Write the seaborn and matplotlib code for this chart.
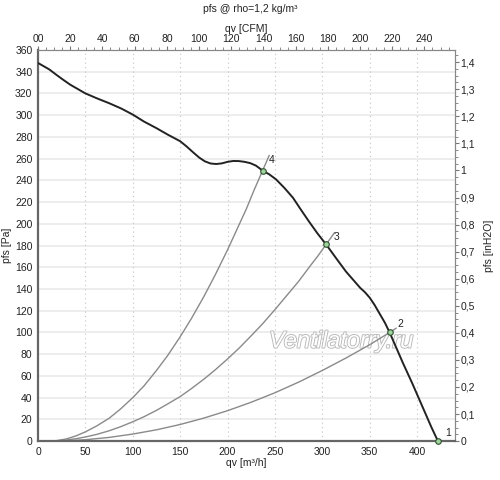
import numpy as np
import pandas as pd
import seaborn as sns
import matplotlib
matplotlib.use("Agg")
import matplotlib.pyplot as plt
import matplotlib.patheffects as pe
from matplotlib.ticker import MultipleLocator, FixedLocator

# fan curve (qv m3/h, pfs Pa)
fan_q = [0, 6, 12, 18, 25, 34, 42, 50, 62, 75, 88, 100, 112, 125, 137, 150, 157, 164,
         170, 176, 182, 188, 194, 200, 206, 212, 218, 224, 230, 237, 244, 251, 260, 269,
         277, 286, 295, 304, 314, 325, 333, 340, 345, 350, 355, 360, 366, 371, 378, 385,
         395, 405, 415, 422]
fan_p = [348, 345, 342, 338, 333.5, 328, 324, 320, 315.5, 311, 306, 300.5, 294, 288, 282,
         276, 271, 265.5, 261, 257.5, 255.5, 255, 255.6, 257, 257.8, 257.7, 257, 255.8,
         253.5, 249, 245.5, 241, 233, 224, 213.5, 202, 191, 181, 169, 156, 148, 141, 137,
         132, 125.5, 118, 109, 100, 86, 72, 53, 33, 13, 0]

# system curves
sys4_q = [10, 20, 30, 40, 50, 62, 75, 87, 100, 112, 125, 137, 150, 162, 175, 187, 200,
          210, 220, 228, 237, 244]
sys4_p = [0, 0.5, 2, 4.8, 8.5, 14, 21, 29.5, 40, 51, 65, 79, 96, 113, 133, 153, 176,
          195, 214, 231, 249, 263]
sys3_q = [10, 20, 30, 40, 50, 62, 75, 87, 100, 112, 125, 137, 150, 162, 175, 187, 200,
          212, 225, 237, 250, 262, 275, 287, 295, 304, 313]
sys3_p = [0, 0.3, 1, 2.2, 3.8, 6.2, 9.5, 13.2, 17.8, 22.5, 28.3, 34.3, 41, 48.4, 57,
          65.6, 75.6, 85.4, 97, 108, 121, 133.5, 147, 161, 170, 181, 192]
sys2_q = [10, 30, 50, 75, 100, 125, 150, 175, 200, 225, 250, 275, 300, 325, 350, 371, 378]
sys2_p = [0, 0.4, 1.3, 3.4, 6.5, 10.4, 15.3, 21.2, 28, 35.8, 44.5, 54.3, 65, 76.5, 88.7,
          100, 104]

# operating points
op_names = ["1", "2", "3", "4"]
op_q = [422, 371, 304, 237]
op_p = [0, 100, 181, 249]
op_label_q = [433, 382, 315, 247]
op_label_p = [7.5, 108, 188, 259]

cfm_ticks = list(range(0, 241, 20))
cfm_labels = ["00"] + [str(t) for t in cfm_ticks[1:]]
inh2o_ticks = [round(0.1 * i, 1) for i in range(15)]
inh2o_labels = ["0"] + [("%g" % t).replace(".", ",") for t in inh2o_ticks[1:]]

sns.set_style("white")
plt.rcParams["font.family"] = ["Liberation Sans", "DejaVu Sans"]

fig = plt.figure(figsize=(5, 4.8), dpi=100)
ax = fig.add_axes([0.076, 0.081, 0.834, 0.815])

# grid
for y in range(20, 360, 20):
    ax.axhline(y, color="#e8e8e8", lw=1.1, zorder=0)
for x in range(50, 450, 50):
    ax.axvline(x, color="#c4c4c4", lw=0.8, ls=(0, (1, 3)), zorder=0)

for q, p in [(sys4_q, sys4_p), (sys3_q, sys3_p), (sys2_q, sys2_p)]:
    sns.lineplot(x=q, y=p, ax=ax, color="#8a8a8a", lw=1.0, sort=False, zorder=2)

sns.lineplot(x=fan_q, y=fan_p, ax=ax, color="#222222", lw=1.4, sort=False, zorder=3)

pts = pd.DataFrame({"q": op_q, "p": op_p})
sns.scatterplot(data=pts, x="q", y="p", ax=ax, s=16, color="#9fd49f",
                edgecolor="#2e4e2e", linewidth=0.8, zorder=4, clip_on=False)
for name, lq, lp in zip(op_names, op_label_q, op_label_p):
    ax.text(lq, lp, name, fontsize=7.5, color="#222222", ha="center", va="center")

ax.text(320, 92, "Ventilatorry.ru", fontsize=17, style="italic",
        color="white", ha="center", va="center", zorder=1,
        path_effects=[pe.withStroke(linewidth=1.3, foreground="#b8b8b8")])

ax.set_xlim(0, 440)
ax.set_ylim(0, 360)
ax.xaxis.set_major_locator(MultipleLocator(50))
ax.xaxis.set_minor_locator(MultipleLocator(10))
ax.yaxis.set_major_locator(MultipleLocator(20))
ax.yaxis.set_minor_locator(MultipleLocator(5))
ax.tick_params(which="both", direction="out", colors="#777777", labelcolor="#222222",
               labelsize=7.5, pad=1)
ax.tick_params(which="major", length=3, width=0.8)
ax.tick_params(which="minor", length=2, width=0.6)
ax.set_xlabel("qv [m³/h]", fontsize=7.5, labelpad=1, color="#222222")
ax.set_ylabel("pfs [Pa]", fontsize=7.5, labelpad=2, color="#222222")

for side in ["left", "bottom"]:
    ax.spines[side].set_color("#666666")
    ax.spines[side].set_linewidth(1.6)
for side in ["top", "right"]:
    ax.spines[side].set_color("#888888")
    ax.spines[side].set_linewidth(0.8)

secx = ax.secondary_xaxis("top", functions=(lambda q: q / 1.699, lambda c: c * 1.699))
secx.xaxis.set_major_locator(FixedLocator(cfm_ticks))
secx.set_xticklabels(cfm_labels)
secx.xaxis.set_minor_locator(MultipleLocator(5))
secx.tick_params(which="both", direction="out", colors="#777777", labelcolor="#222222",
                 labelsize=7.5, pad=1)
secx.tick_params(which="major", length=3)
secx.tick_params(which="minor", length=2)
secx.set_xlabel("qv [CFM]", fontsize=7.5, labelpad=2, color="#222222")
secx.spines["top"].set_color("#888888")

secy = ax.secondary_yaxis("right", functions=(lambda p: p / 249.09, lambda h: h * 249.09))
secy.yaxis.set_major_locator(FixedLocator(inh2o_ticks))
secy.set_yticklabels(inh2o_labels)
secy.yaxis.set_minor_locator(MultipleLocator(0.025))
secy.tick_params(which="both", direction="out", colors="#777777", labelcolor="#222222",
                 labelsize=7.5, pad=1)
secy.tick_params(which="major", length=3)
secy.tick_params(which="minor", length=2)
secy.set_ylabel("pfs [inH2O]", fontsize=7.5, labelpad=6, color="#222222")
secy.spines["right"].set_color("#888888")

fig.text(0.5, 1 - 9 / 480, "pfs @ rho=1,2 kg/m³", ha="center", va="center",
         fontsize=7.5, color="#222222")

fig.savefig("out.png", dpi=100)
